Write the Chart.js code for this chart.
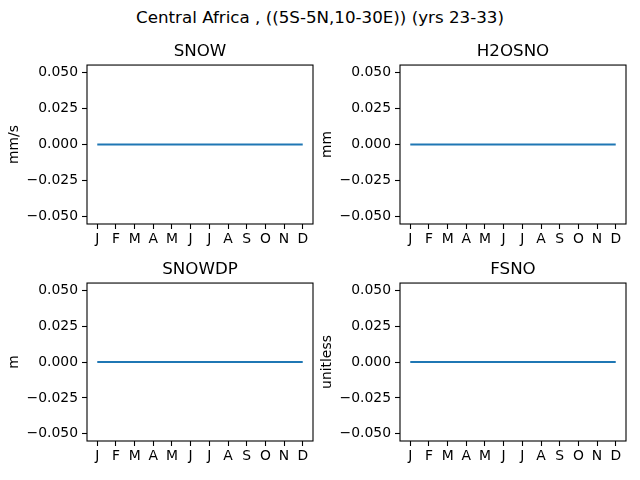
<!DOCTYPE html>
<html>
<head>
<meta charset="utf-8">
<script src="https://cdn.jsdelivr.net/npm/chart.js@4"></script>
<style>
  html, body { margin:0; padding:0; background:#fff; }
  body { width:640px; height:480px; position:relative; overflow:hidden; font-family:"DejaVu Sans", sans-serif; }
  canvas { position:absolute; }
  #sup { position:absolute; left:0; top:7px; width:640px; text-align:center; font-size:16.7px; line-height:20px; color:#000; }
</style>
</head>
<body>
<div id="sup">Central Africa , ((5S-5N,10-30E)) (yrs 23-33)</div>
<canvas id="c0" width="325" height="217" style="left:0px;top:37px"></canvas>
<canvas id="c1" width="325" height="217" style="left:313px;top:37px"></canvas>
<canvas id="c2" width="325" height="216" style="left:0px;top:255px"></canvas>
<canvas id="c3" width="325" height="216" style="left:313px;top:255px"></canvas>
<script>
// Data
const months = ['J','F','M','A','M','J','J','A','S','O','N','D'];
const snowVals   = [0,0,0,0,0,0,0,0,0,0,0,0];
const h2osnoVals = [0,0,0,0,0,0,0,0,0,0,0,0];
const snowdpVals = [0,0,0,0,0,0,0,0,0,0,0,0];
const fsnoVals   = [0,0,0,0,0,0,0,0,0,0,0,0];
const yTicks = [-0.05, -0.025, 0, 0.025, 0.05];
const panelTitles = ['SNOW','H2OSNO','SNOWDP','FSNO'];
const panelUnits = ['mm/s','mm','m','unitless'];
const panelData = [snowVals, h2osnoVals, snowdpVals, fsnoVals];

const FONT = '"DejaVu Sans", sans-serif';

const framePlugin = {
  id: 'frame',
  afterDraw(chart) {
    const a = chart.chartArea, ctx = chart.ctx;
    ctx.save();
    ctx.strokeStyle = '#000';
    ctx.lineWidth = 1.1;
    ctx.strokeRect(a.left, a.top, a.right - a.left, a.bottom - a.top);
    ctx.restore();
  }
};

function fmt(v) {
  const s = Math.abs(v).toFixed(3);
  return (v < -1e-12 ? '\u2212' : '') + s;
}

panelData.forEach((vals, k) => {
  new Chart(document.getElementById('c' + k), {
    type: 'line',
    data: {
      datasets: [{
        data: vals.map((v, i) => ({x: i, y: v})),
        borderColor: '#1f77b4',
        borderWidth: 2.1,
        pointRadius: 0,
        fill: false,
        tension: 0
      }]
    },
    options: {
      responsive: false,
      animation: false,
      layout: { padding: { left: 0, top: 0, right: 12, bottom: 0 } },
      plugins: {
        legend: { display: false },
        tooltip: { enabled: false },
        title: {
          display: true,
          fullSize: false,
          text: panelTitles[k],
          color: '#000',
          font: { family: FONT, size: 16.7, weight: 'normal', lineHeight: 1.2 },
          padding: { top: 5, bottom: 3 }
        }
      },
      scales: {
        x: {
          type: 'linear',
          min: -0.55,
          max: 11.55,
          afterBuildTicks: (s) => { s.ticks = months.map((m, i) => ({ value: i })); },
          afterFit: (s) => { s.height = 30; },
          ticks: {
            autoSkip: false,
            maxRotation: 0,
            color: '#000',
            padding: 2,
            font: { family: FONT, size: 13.9 },
            callback: (v) => months[Math.round(v)]
          },
          grid: { drawOnChartArea: false, drawTicks: true, tickLength: 5, tickColor: '#000', tickWidth: 1.1 },
          border: { display: false }
        },
        y: {
          type: 'linear',
          min: -0.055,
          max: 0.055,
          afterBuildTicks: (s) => { s.ticks = yTicks.map(v => ({ value: v })); },
          afterFit: (s) => { s.width = 87; },
          ticks: {
            color: '#000',
            padding: 4,
            font: { family: FONT, size: 13.9 },
            callback: (v) => fmt(v)
          },
          grid: { drawOnChartArea: false, drawTicks: true, tickLength: 5, tickColor: '#000', tickWidth: 1.1 },
          border: { display: false },
          title: {
            display: true,
            text: panelUnits[k],
            color: '#000',
            font: { family: FONT, size: 13.9, lineHeight: 1.2 },
            padding: { top: 6, bottom: 0 }
          }
        }
      }
    },
    plugins: [framePlugin]
  });
});
</script>
</body>
</html>
